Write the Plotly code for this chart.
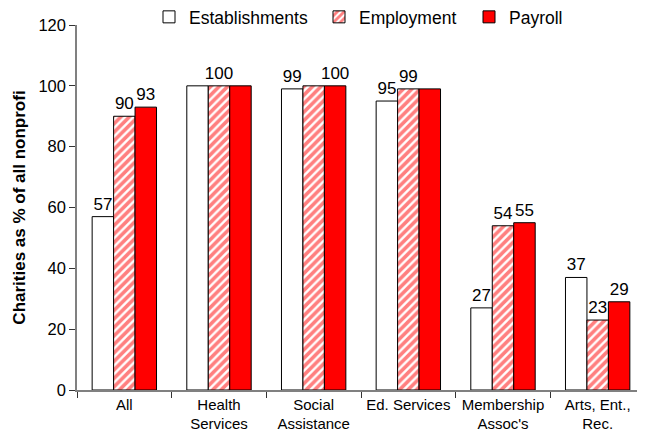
import plotly.graph_objects as go

categories = ["All", "Health<br>Services", "Social<br>Assistance", "Ed. Services",
              "Membership<br>Assoc's", "Arts, Ent.,<br>Rec."]
establishments = [57, 100, 99, 95, 27, 37]
employment = [90, 100, 100, 99, 54, 23]
payroll = [93, 100, 100, 99, 55, 29]
est_labels = ["57", "", "99", "95", "27", "37"]
emp_labels = ["90", "100", "", "99", "54", "23"]
pay_labels = ["93", "", "100", "", "55", "29"]
y_ticks = [0, 20, 40, 60, 80, 100, 120]

FONT = "Liberation Sans, Arial, sans-serif"

fig = go.Figure()
fig.add_trace(go.Bar(
    x=categories, y=establishments, name="Establishments", text=est_labels,
    marker=dict(color="white", line=dict(color="black", width=1)),
    legend="legend", showlegend=True,
))
fig.add_trace(go.Bar(
    x=categories, y=employment, name="Employment", text=emp_labels,
    marker=dict(color="white", line=dict(color="black", width=1),
                pattern=dict(shape="/", fgcolor="#FF0000", bgcolor="white",
                             size=6, solidity=0.6)),
    legend="legend2", showlegend=True,
))
fig.add_trace(go.Bar(
    x=categories, y=payroll, name="Payroll", text=pay_labels,
    marker=dict(color="#FF0000", line=dict(color="black", width=1)),
    legend="legend3", showlegend=True,
))
fig.update_traces(textposition="outside", cliponaxis=False, constraintext="none",
                  textfont=dict(size=17, color="black", family=FONT))

leg_common = dict(orientation="h", yanchor="middle", y=1.022, xanchor="left",
                  font=dict(size=17.5, color="black", family=FONT),
                  bgcolor="rgba(0,0,0,0)", borderwidth=0, visible=True)
# page body has an 8px default margin, so the figure is drawn 8px smaller
fig.update_layout(
    width=637, height=434,
    showlegend=True,
    margin=dict(l=69, r=0, t=17, b=52, autoexpand=False),
    paper_bgcolor="white", plot_bgcolor="white",
    barmode="group", bargap=0.32, bargroupgap=0,
    font=dict(family=FONT, color="black"),
    legend=dict(x=(149 - 77) / 568, **leg_common),
    legend2=dict(x=(319 - 77) / 568, **leg_common),
    legend3=dict(x=(469 - 77) / 568, **leg_common),
    xaxis=dict(
        showline=True, linecolor="#808080", linewidth=1.5,
        ticks="outside", tickson="boundaries", ticklen=6, tickcolor="#333333",
        tickfont=dict(size=15, color="black", family=FONT),
        showgrid=False, automargin=False,
    ),
    yaxis=dict(
        range=[0, 120], tickvals=y_ticks,
        showline=True, linecolor="#808080", linewidth=1.5,
        ticks="outside", ticklen=6, tickcolor="#333333",
        tickfont=dict(size=16.5, color="black", family=FONT),
        showgrid=False, zeroline=False, automargin=False,
        title=dict(text="<b>Charities as % of all nonprofi</b>",
                   font=dict(size=17, color="black", family=FONT), standoff=8),
    ),
)

fig.write_html("out.html")
